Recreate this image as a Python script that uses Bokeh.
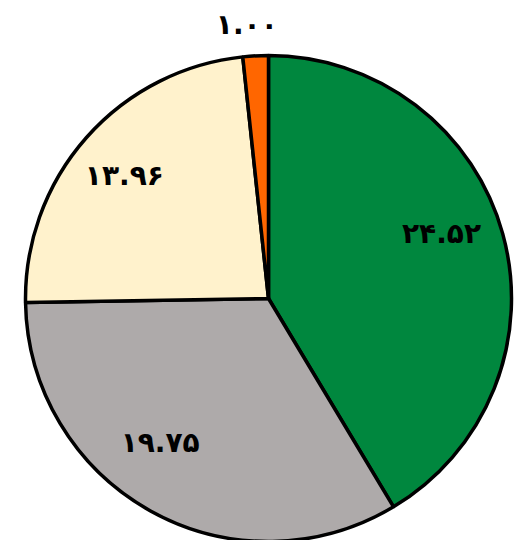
import math
from bokeh.plotting import figure
from bokeh.models import Range1d, ColumnDataSource
from bokeh.embed import file_html
from bokeh.resources import INLINE
from bokeh.core.properties import value

# data
categories = ["A", "B", "C", "D"]
values = [24.52, 19.75, 13.96, 1.00]
colors = ["#00873E", "#AEAAAA", "#FFF2CC", "#FF6600"]

# styling for label placement (radius factor, angle nudge in degrees)
label_rf = [0.76, 0.74, 0.78, 1.13]
label_nudge = [-5.0, 8.0, -1.0, -1.5]

PERSIAN = str.maketrans("0123456789", "۰۱۲۳۴۵۶۷۸۹")
def fa(v):
    return f"{v:.2f}".translate(PERSIAN)

W, H = 528, 540
cx, cy, R = 268, -298, 243

p = figure(width=W, height=H, output_backend="svg", toolbar_location=None,
           x_range=Range1d(0, W), y_range=Range1d(-H, 0),
           min_border=0, outline_line_color=None)
p.axis.visible = False
p.grid.visible = False
p.background_fill_color = "white"
p.border_fill_color = "white"

total = sum(values)
starts, ends, lx, ly, labels = [], [], [], [], []
cum = 0.0
for i, v in enumerate(values):
    a0 = cum / total * 2 * math.pi
    cum += v
    a1 = cum / total * 2 * math.pi
    starts.append(math.pi / 2 - a0)
    ends.append(math.pi / 2 - a1)
    mid = (a0 + a1) / 2 + math.radians(label_nudge[i])
    r = R * label_rf[i]
    lx.append(cx + r * math.sin(mid))
    ly.append(cy + r * math.cos(mid))
    labels.append(fa(v))

src = ColumnDataSource(dict(x=[cx] * 4, y=[cy] * 4, start=starts, end=ends,
                            color=colors, cat=categories))
p.wedge(x="x", y="y", radius=R, start_angle="start", end_angle="end",
        direction="clock", fill_color="color", line_color="black",
        line_width=3.5, source=src)

lsrc = ColumnDataSource(dict(x=lx, y=ly, t=labels))
p.text(x="x", y="y", text="t", source=lsrc, text_font=value("DejaVu Sans"),
       text_font_style="bold", text_font_size="28px", text_color="black",
       text_align="center", text_baseline="middle")

open("out.html", "w").write(file_html(p, INLINE))
